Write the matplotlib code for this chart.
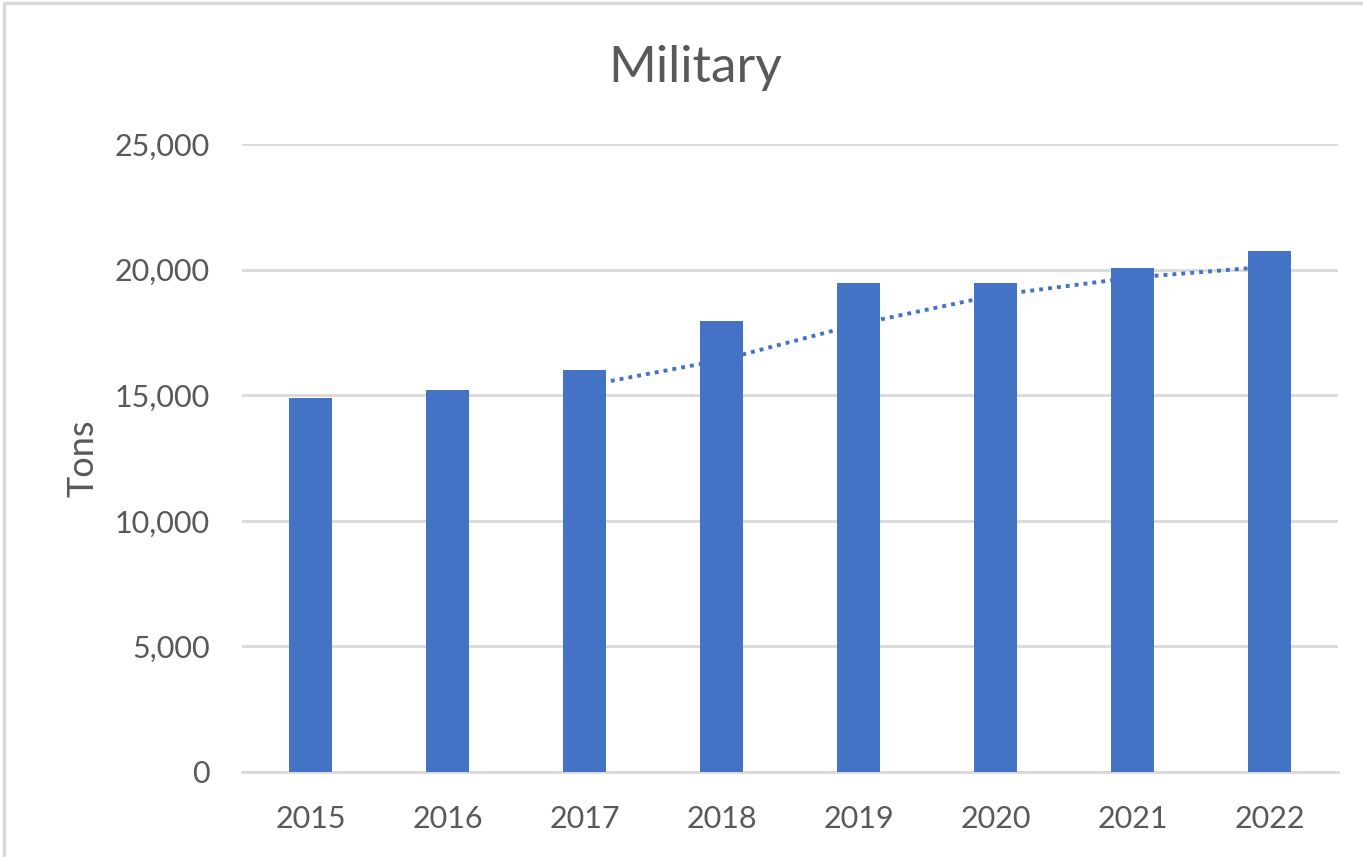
import matplotlib.pyplot as plt
import matplotlib.patches as patches
from matplotlib.ticker import FuncFormatter

# Data
years = ['2015', '2016', '2017', '2018', '2019', '2020', '2021', '2022']
tons = [14900, 15200, 16000, 17950, 19480, 19480, 20060, 20720]
# 3-period moving average trendline (starts at 2017)
trend_years = ['2017', '2018', '2019', '2020', '2021', '2022']
trend_tons = [15370, 16400, 17830, 18980, 19680, 20120]

plt.rcParams['font.family'] = ['Lato', 'DejaVu Sans']
text_color = '#595959'
grid_color = '#D9D9D9'
bar_color = '#4472C4'

fig = plt.figure(figsize=(13.63, 8.57), dpi=100)
ax = fig.add_axes([0.1775, 0.0992, 0.8042, 0.7328])

x = list(range(len(years)))
ax.bar(x, tons, width=0.32, color=bar_color, zorder=3)

tx = [years.index(y) for y in trend_years]
ax.plot(tx, trend_tons, linestyle=(0, (1, 1.3)), color=bar_color,
        linewidth=2.8, zorder=2)

ax.set_xlim(-0.5, len(years) - 0.5)
ax.set_ylim(0, 25000)
ax.set_yticks(range(0, 25001, 5000))
ax.yaxis.set_major_formatter(FuncFormatter(lambda v, p: f'{int(v):,}'))
ax.set_xticks(x)
ax.set_xticklabels(years)

ax.grid(axis='y', color=grid_color, linewidth=2, zorder=0)
for s in ['top', 'right', 'left']:
    ax.spines[s].set_visible(False)
ax.spines['bottom'].set_color(grid_color)
ax.spines['bottom'].set_linewidth(2)
ax.tick_params(axis='both', length=0, labelsize=22, colors=text_color)
ax.tick_params(axis='x', pad=24)
ax.tick_params(axis='y', pad=23)

ax.set_ylabel('Tons', fontsize=26, color=text_color)
ax.yaxis.set_label_coords(-0.13, 0.5)
fig.text(0.51, 0.921, 'Military', ha='center', va='center',
         fontsize=37, color=text_color)

# light chart-area border
fig.patches.append(patches.Rectangle((0.003, -0.01), 1.0, 1.007,
                                     transform=fig.transFigure, fill=False,
                                     edgecolor='#D9D9D9', linewidth=2.5))

plt.savefig('out.png', dpi=100)
